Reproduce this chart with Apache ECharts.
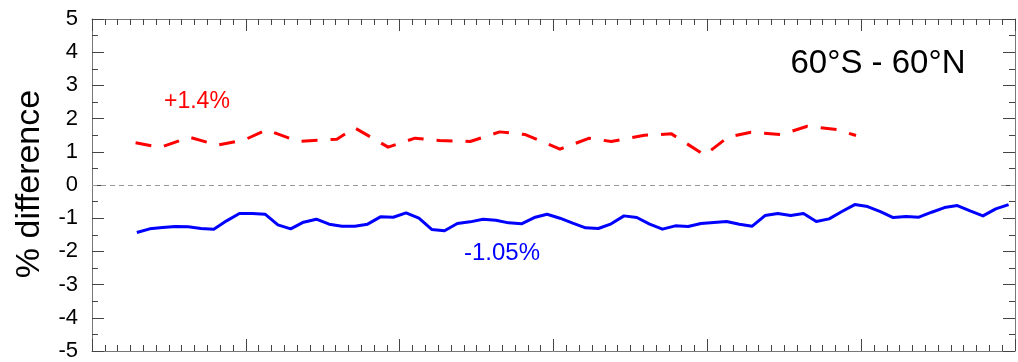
<!DOCTYPE html>
<html>
<head>
<meta charset="utf-8">
<script src="https://cdn.jsdelivr.net/npm/echarts@6/dist/echarts.min.js"></script>
<style>
  html, body { margin: 0; padding: 0; background: #fff; }
  #chart { width: 1018px; height: 362px; }
</style>
</head>
<body>
<div id="chart"></div>
<script>
// Monthly % difference (solid blue), first value in month index 3 of a 6-year span
const blueStartMonth = 3;
const blueValues = [
  -1.43, -1.32, -1.28, -1.25, -1.26, -1.31, -1.33, -1.08, -0.86,
  -0.86, -0.88, -1.20, -1.32, -1.12, -1.03, -1.18, -1.24, -1.24, -1.18, -0.96, -0.97,
  -0.84, -1.00, -1.34, -1.38, -1.16, -1.11, -1.03, -1.06, -1.14, -1.17, -0.98, -0.88,
  -1.00, -1.15, -1.29, -1.31, -1.17, -0.93, -0.98, -1.18, -1.33, -1.23, -1.25, -1.16,
  -1.13, -1.10, -1.18, -1.24, -0.92, -0.86, -0.92, -0.86, -1.10, -1.02, -0.80, -0.59,
  -0.65, -0.80, -0.98, -0.95, -0.97, -0.82, -0.68, -0.62, -0.78, -0.93, -0.72, -0.59
];

// Sparser comparison record (dashed red): sample times in months and values
const redMonths = [
  3.4, 5.3, 7.6, 9.8, 11.9, 13.6, 16.1, 19.1, 20.5, 23.1, 25.2, 27.1, 29.5, 31.8,
  33.8, 36.5, 38.8, 40.5, 43.1, 45.2, 47.8, 49.6, 51.4, 53.8, 55.8, 58.1, 59.6
];
const redValues = [
  1.27, 1.13, 1.44, 1.20, 1.36, 1.66, 1.31, 1.38, 1.72, 1.14, 1.41, 1.34, 1.31, 1.60,
  1.52, 1.08, 1.41, 1.31, 1.50, 1.54, 0.90, 1.44, 1.59, 1.52, 1.77, 1.67, 1.49
];

const yMin = -5, yMax = 5, yStep = 1;
const monthsTotal = 72, monthsPerYear = 12;

const regionLabel = '60°S - 60°N';
const redMeanLabel = '+1.4%';
const blueMeanLabel = '-1.05%';
const yTitle = '% difference';

const blueData = blueValues.map((v, i) => [blueStartMonth + i + 0.5, v]);
const redData = redMonths.map((m, i) => [m, redValues[i]]);

const FONT = '"Liberation Sans", Arial, sans-serif';
const axisGray = '#777';
const tickColor = '#444';

function xAxisCfg(position) {
  return {
    type: 'value', position: position,
    min: 0, max: monthsTotal, interval: monthsPerYear,
    axisLine: { show: true, onZero: false, lineStyle: { color: axisGray, width: 1 } },
    axisTick: { show: true, inside: true, length: 12, lineStyle: { color: tickColor } },
    minorTick: { show: true, splitNumber: monthsPerYear, length: 6, lineStyle: { color: tickColor } },
    axisLabel: { show: false },
    splitLine: { show: false }
  };
}
function yAxisCfg(position, labels) {
  return {
    type: 'value', position: position,
    min: yMin, max: yMax, interval: yStep,
    axisLine: { show: true, onZero: false, lineStyle: { color: axisGray, width: 1 } },
    axisTick: { show: true, inside: true, length: 12, lineStyle: { color: tickColor } },
    minorTick: { show: true, splitNumber: 2, length: 6, lineStyle: { color: tickColor } },
    axisLabel: { show: labels, margin: 14, color: '#000', fontSize: 22, fontFamily: FONT },
    splitLine: { show: false }
  };
}

const chart = echarts.init(document.getElementById('chart'), null, { renderer: 'canvas' });
chart.setOption({
  animation: false,
  backgroundColor: '#fff',
  grid: { left: 92, right: 3, top: 19, bottom: 10, containLabel: false },
  xAxis: [xAxisCfg('bottom'), xAxisCfg('top')],
  yAxis: [yAxisCfg('left', true), yAxisCfg('right', false)],
  series: [
    {
      type: 'line', name: 'blue', xAxisIndex: 0, yAxisIndex: 0,
      data: blueData, showSymbol: false, symbol: 'none',
      lineStyle: { color: '#0000ff', width: 3, join: 'round' },
      z: 3,
      markLine: {
        silent: true, symbol: 'none', animation: false,
        label: { show: false },
        lineStyle: { color: '#999', width: 1, type: [5, 4] },
        data: [{ yAxis: 0 }]
      }
    },
    {
      type: 'line', name: 'red', xAxisIndex: 0, yAxisIndex: 0,
      data: redData, showSymbol: false, symbol: 'none',
      lineStyle: { color: '#ff0000', width: 3, type: [16, 13], join: 'round' },
      z: 3
    }
  ],
  graphic: [
    { type: 'text', x: 878, y: 64, style: { text: regionLabel, fill: '#000', font: '33px ' + FONT, align: 'center', verticalAlign: 'middle' } },
    { type: 'text', x: 164, y: 102, style: { text: redMeanLabel, fill: '#ff0000', font: '23px ' + FONT, align: 'left', verticalAlign: 'middle' } },
    { type: 'text', x: 464, y: 253, style: { text: blueMeanLabel, fill: '#0000ff', font: '24px ' + FONT, align: 'left', verticalAlign: 'middle' } },
    { type: 'text', x: 30, y: 184, rotation: Math.PI / 2, style: { text: yTitle, fill: '#000', font: '34px ' + FONT, align: 'center', verticalAlign: 'middle' } }
  ]
});
</script>
</body>
</html>
